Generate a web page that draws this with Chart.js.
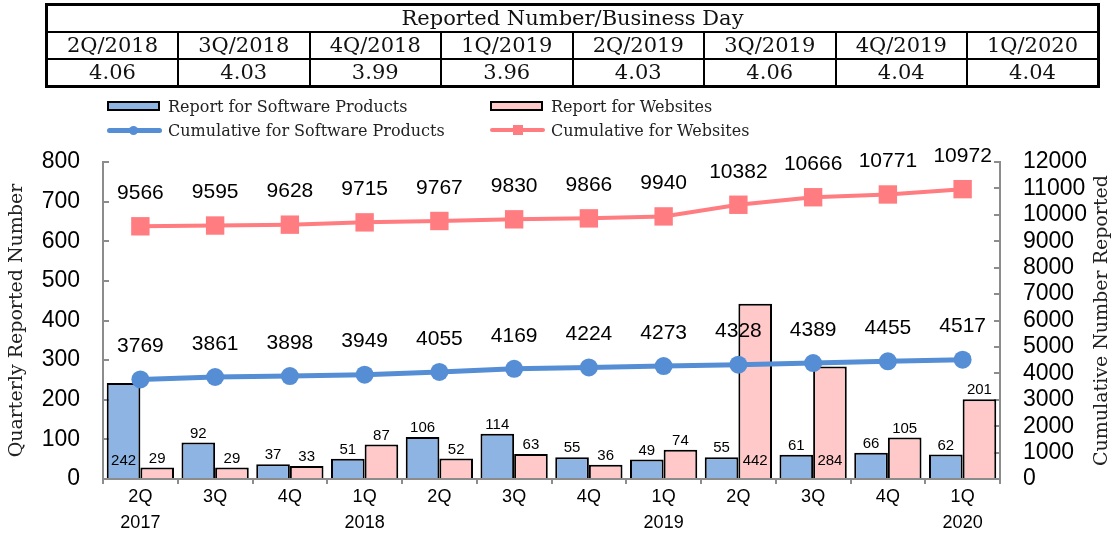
<!DOCTYPE html>
<html>
<head>
<meta charset="utf-8">
<script src="https://cdn.jsdelivr.net/npm/chart.js@4.4.1/dist/chart.umd.min.js"></script>
<style>
    body { margin: 0; background: #fff; }
    #page { position: relative; width: 1119px; height: 536px; overflow: hidden; }
    #chart { position: absolute; left: 0; top: 0; }
    #perDay { position: absolute; left: 45px; top: 3px; width: 1055px; border-collapse: collapse;
        border: 3px solid #000; table-layout: fixed; font-family: "DejaVu Serif"; font-size: 21px; color: #111; }
    #perDay td { border: 2px solid #000; text-align: center; padding: 0; height: 25px; line-height: 25px; }
    #legend { position: absolute; left: 107px; top: 94px; display: grid;
        grid-template-columns: 383px auto; grid-auto-rows: 24px;
        font-family: "DejaVu Serif"; font-size: 16px; color: #222; }
    .item { display: flex; align-items: center; }
    .sym { position: relative; width: 55px; height: 14px; margin-right: 6px; flex: none; }
    .box { position: absolute; left: 0; top: 2px; width: 49px; height: 6px; border: 2px solid #000; }
    .ln { position: absolute; left: 0; width: 55px; }
    .mk { position: absolute; }
</style>
</head>
<body>
<div id="page">
    <canvas id="chart" width="1119" height="536"></canvas>
    <table id="perDay"></table>
    <div id="legend"></div>
</div>
<script>
var quarters = [['2Q', '2017'], ['3Q', ''], ['4Q', ''], ['1Q', '2018'], ['2Q', ''], ['3Q', ''],
    ['4Q', ''], ['1Q', '2019'], ['2Q', ''], ['3Q', ''], ['4Q', ''], ['1Q', '2020']];
var softwareReports = [242, 92, 37, 51, 106, 114, 55, 49, 55, 61, 66, 62];
var websiteReports = [29, 29, 33, 87, 52, 63, 36, 74, 442, 284, 105, 201];
var softwareCumulative = [3769, 3861, 3898, 3949, 4055, 4169, 4224, 4273, 4328, 4389, 4455, 4517];
var websiteCumulative = [9566, 9595, 9628, 9715, 9767, 9830, 9866, 9940, 10382, 10666, 10771, 10972];

var tableTitle = 'Reported Number/Business Day';
var tableQuarters = ['2Q/2018', '3Q/2018', '4Q/2018', '1Q/2019', '2Q/2019', '3Q/2019', '4Q/2019', '1Q/2020'];
var tableValues = ['4.06', '4.03', '3.99', '3.96', '4.03', '4.06', '4.04', '4.04'];

var leftTitle = 'Quarterly Reported Number';
var rightTitle = 'Cumulative Number Reported';

var blueBar = '#8db4e3', pinkBar = '#ffc9c9', blueLine = '#558ed5', pinkLine = '#ff7c80';
var axisGray = '#8c8c8c';

// table above the chart
var table = document.getElementById('perDay');
var html = '<tr><td colspan="' + tableQuarters.length + '">' + tableTitle + '</td></tr><tr>';
tableQuarters.forEach(function (q) { html += '<td>' + q + '</td>'; });
html += '</tr><tr>';
tableValues.forEach(function (v) { html += '<td>' + v + '</td>'; });
table.innerHTML = html + '</tr>';

var labelPlugin = {
    id: 'valueLabels',
    afterDatasetsDraw: function (chart) {
        var ctx = chart.ctx;
        var base = chart.scales.y.getPixelForValue(0);
        chart.data.datasets.forEach(function (ds, i) {
            var meta = chart.getDatasetMeta(i);
            meta.data.forEach(function (el, j) {
                var v = ds.data[j];
                ctx.save();
                ctx.fillStyle = '#000';
                ctx.textAlign = 'center';
                ctx.textBaseline = 'middle';
                if (ds.type === 'line') {
                    ctx.font = '21px "Liberation Sans"';
                    ctx.fillText(v, el.x, el.y - 33);
                } else {
                    ctx.font = '15px "Liberation Sans"';
                    if (v > 220) {
                        ctx.fillText(v, el.x, base - 18);
                    } else {
                        ctx.fillText(v, el.x, el.y - 9);
                    }
                }
                ctx.restore();
            });
        });
    }
};

// right axis title reads bottom to top, like the left one
var rightTitlePlugin = {
    id: 'rightTitle',
    afterDraw: function (chart) {
        var ctx = chart.ctx, a = chart.chartArea;
        ctx.save();
        ctx.translate(1102, (a.top + a.bottom) / 2);
        ctx.rotate(-Math.PI / 2);
        ctx.font = '19px "DejaVu Serif"';
        ctx.fillStyle = '#222';
        ctx.textAlign = 'center';
        ctx.textBaseline = 'middle';
        ctx.fillText(rightTitle, 0, 0);
        ctx.restore();
    }
};

var chart = new Chart(document.getElementById('chart'), {
    type: 'bar',
    data: {
        labels: quarters,
        datasets: [
            { type: 'line', label: 'Cumulative for Software Products', data: softwareCumulative, yAxisID: 'y1',
              borderColor: blueLine, backgroundColor: blueLine, borderWidth: 5, pointRadius: 9,
              pointStyle: 'circle', pointBorderWidth: 0, order: 0, marker: 'circle' },
            { type: 'line', label: 'Cumulative for Websites', data: websiteCumulative, yAxisID: 'y1',
              borderColor: pinkLine, backgroundColor: pinkLine, borderWidth: 4, pointRadius: 13,
              pointStyle: 'rect', pointBorderWidth: 0, order: 0, marker: 'rect' },
            { type: 'bar', label: 'Report for Software Products', data: softwareReports, yAxisID: 'y',
              backgroundColor: blueBar, borderColor: '#000', borderWidth: 2, borderSkipped: 'bottom', order: 1 },
            { type: 'bar', label: 'Report for Websites', data: websiteReports, yAxisID: 'y',
              backgroundColor: pinkBar, borderColor: '#000', borderWidth: 2, borderSkipped: 'bottom', order: 1 }
        ]
    },
    options: {
        responsive: false,
        animation: false,
        layout: { padding: { top: 162, left: 0, right: 0, bottom: 0 } },
        datasets: { bar: { categoryPercentage: 0.9, barPercentage: 1.0 } },
        plugins: { legend: { display: false }, tooltip: { enabled: false } },
        scales: {
            x: {
                grid: { offset: true, drawOnChartArea: false, tickLength: 5, color: axisGray, lineWidth: 2 },
                border: { color: axisGray, width: 2 },
                ticks: { autoSkip: false, maxRotation: 0, padding: 0, color: '#000',
                         font: { family: 'Liberation Sans', size: 18, lineHeight: 1.45 } },
                afterFit: function (s) { s.height = 57; }
            },
            y: {
                position: 'left', min: 0, max: 800,
                ticks: { stepSize: 100, autoSkip: false, padding: 29, color: '#000',
                         font: { family: 'Liberation Sans', size: 23 } },
                grid: { drawOnChartArea: false, tickLength: -6, color: axisGray, lineWidth: 2 },
                border: { color: axisGray, width: 2 },
                title: { display: true, text: leftTitle, color: '#222',
                         font: { family: 'DejaVu Serif', size: 19 }, padding: { top: 6, bottom: 0 } },
                afterFit: function (s) { s.width = 103; }
            },
            y1: {
                position: 'right', min: 0, max: 12000,
                ticks: { stepSize: 1000, autoSkip: false, maxTicksLimit: 20, padding: 29, color: '#000',
                         font: { family: 'Liberation Sans', size: 23 },
                         callback: function (v) { return String(v); } },
                grid: { drawOnChartArea: false, tickLength: -6, color: axisGray, lineWidth: 2 },
                border: { color: axisGray, width: 2 },
                afterFit: function (s) { s.width = 119; }
            }
        }
    },
    plugins: [labelPlugin, rightTitlePlugin]
});

// legend: bars on the first row, lines on the second
var legend = document.getElementById('legend');
var ds = chart.data.datasets;
[ds[2], ds[3], ds[0], ds[1]].forEach(function (d) {
    var sym;
    if (d.type === 'bar') {
        sym = '<span class="sym"><span class="box" style="background:' + d.backgroundColor + '"></span></span>';
    } else {
        var mk = d.marker === 'circle'
            ? '<span class="mk" style="left:22px;top:3px;width:9px;height:9px;border-radius:50%;background:' + d.borderColor + '"></span>'
            : '<span class="mk" style="left:23px;top:2px;width:10px;height:10px;background:' + d.borderColor + '"></span>';
        sym = '<span class="sym"><span class="ln" style="top:' + (7 - d.borderWidth / 2) + 'px;height:' + d.borderWidth +
            'px;border-radius:3px;background:' + d.borderColor + '"></span>' + mk + '</span>';
    }
    legend.innerHTML += '<div class="item">' + sym + '<span>' + d.label + '</span></div>';
});
</script>
</body>
</html>
